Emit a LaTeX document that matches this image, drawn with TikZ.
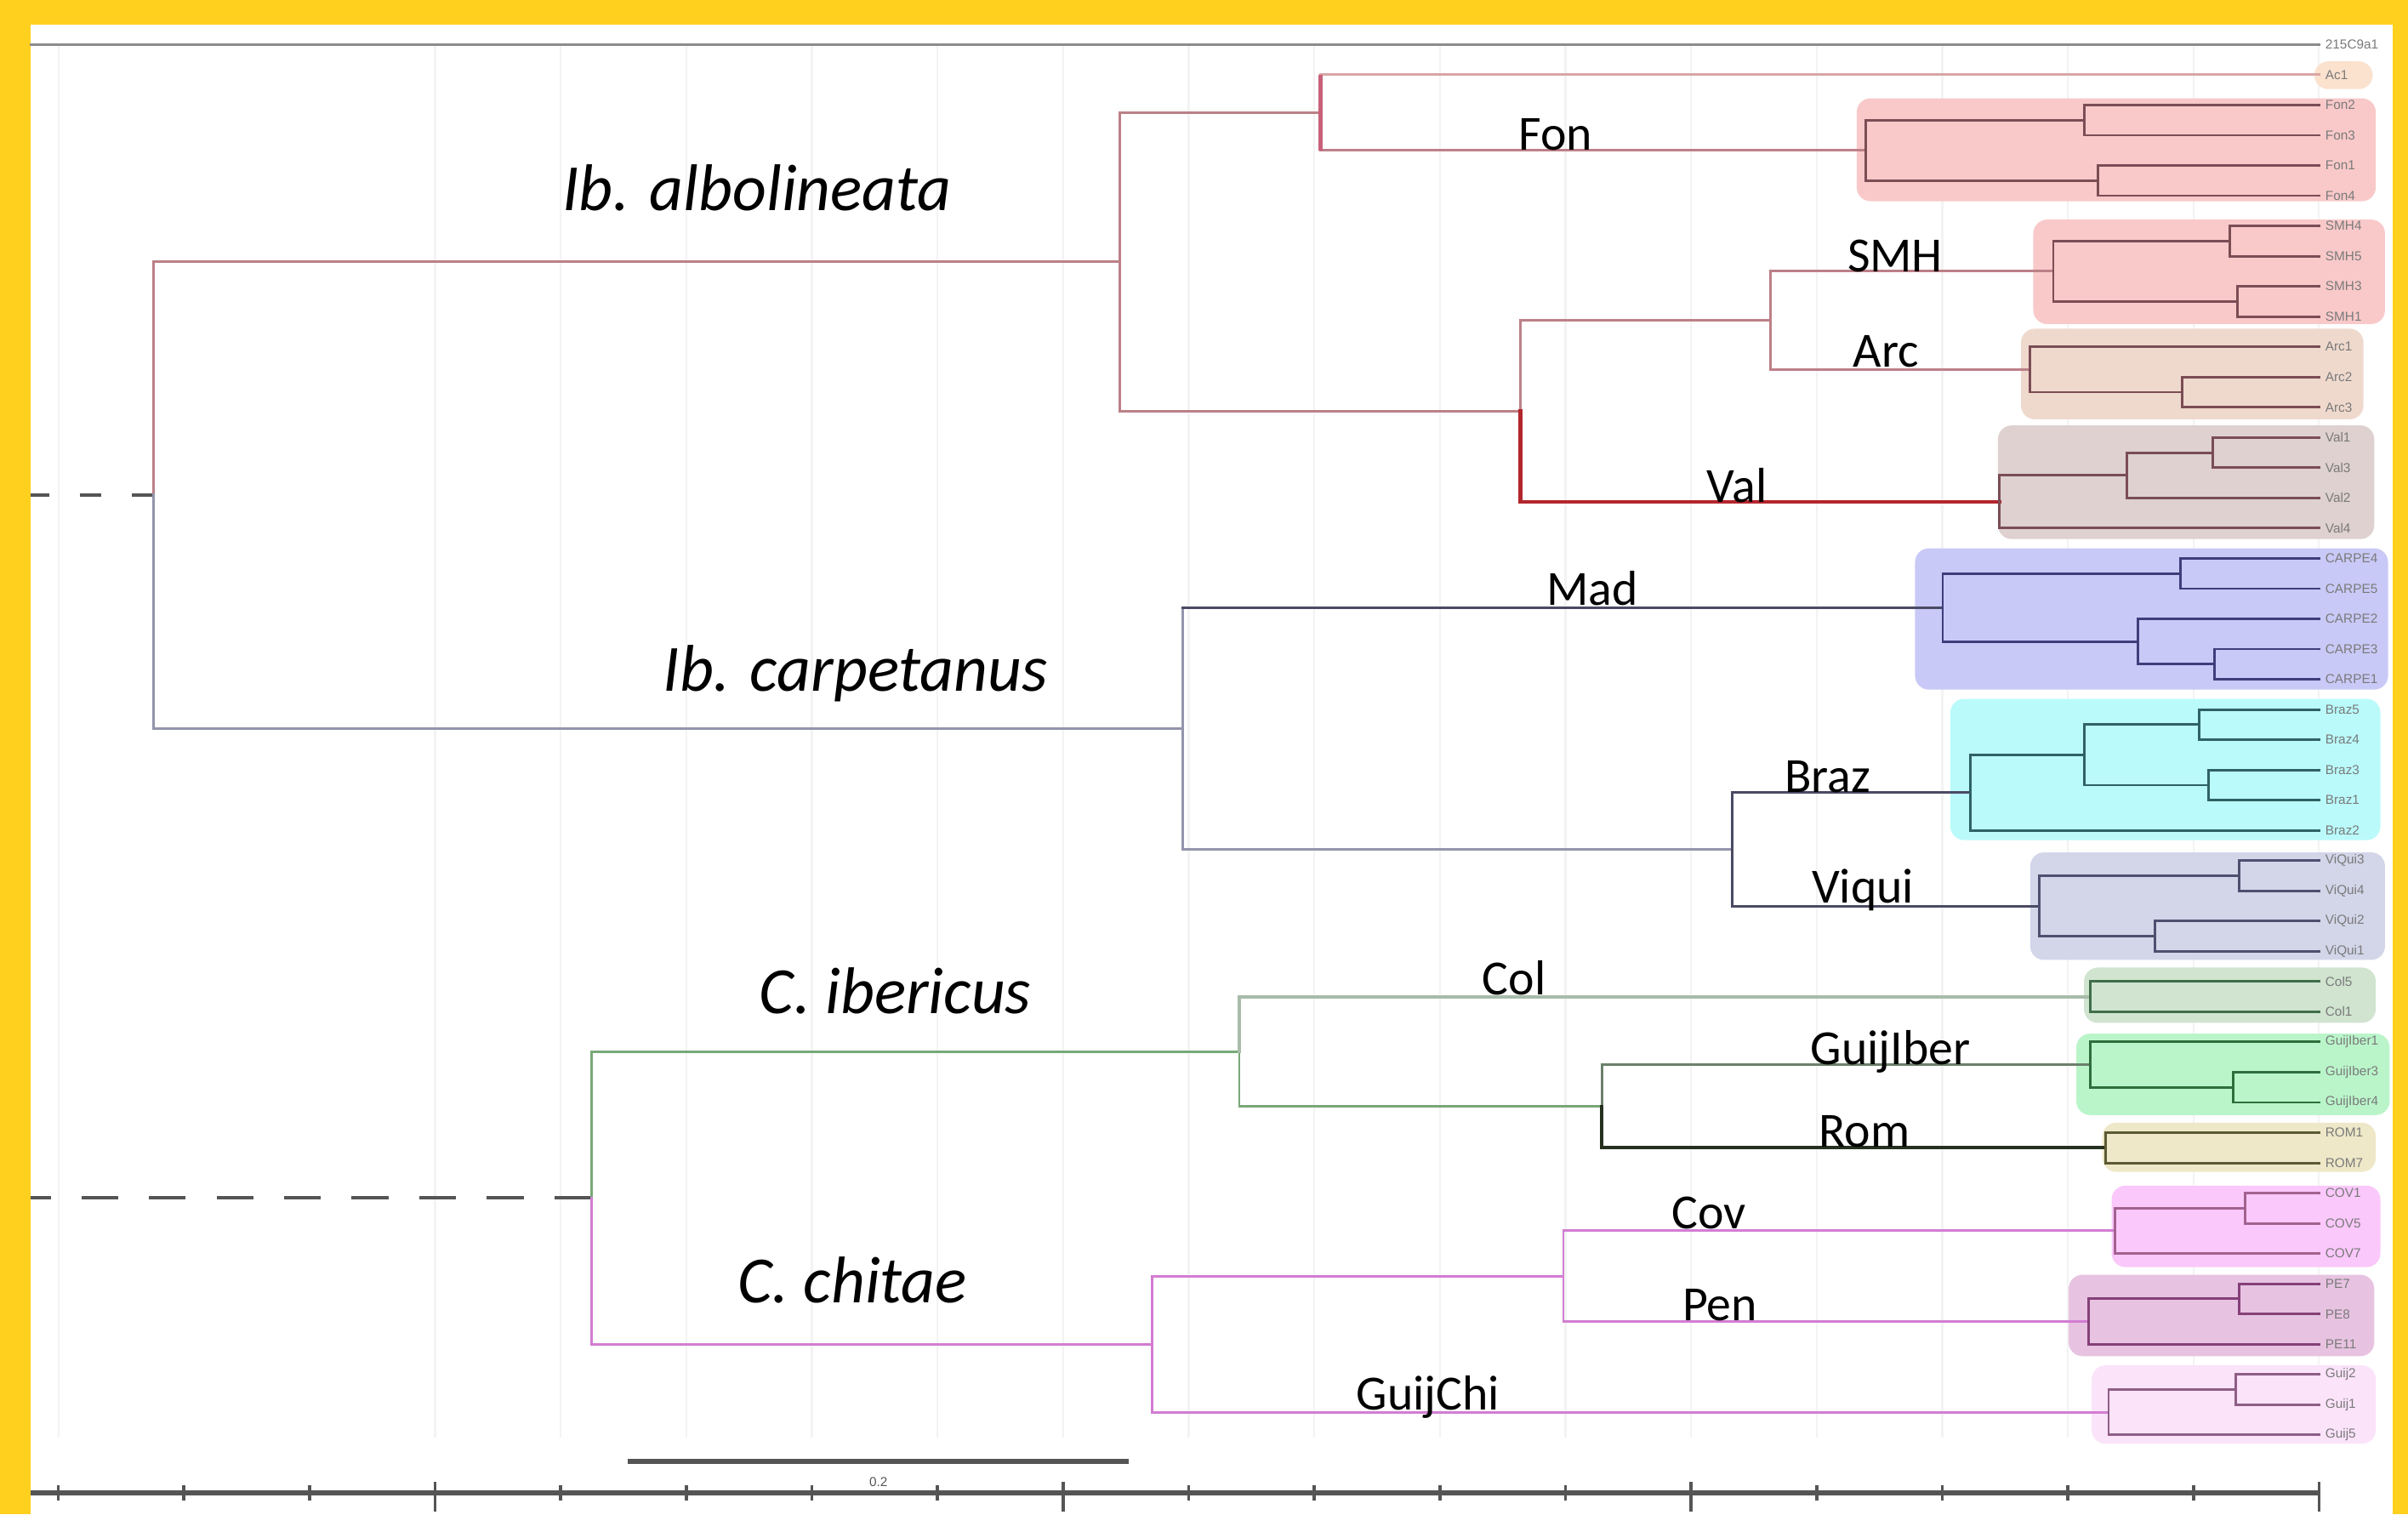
\documentclass[tikz,border=0pt]{standalone}
\usepackage{fontspec}
\setmainfont{Carlito}
\newfontfamily\tipfont{Liberation Sans}
\usepackage{tikz}
\usetikzlibrary{positioning}
\definecolor{frame}{HTML}{FFD01E}
\definecolor{gridc}{HTML}{F3F3F3}
\definecolor{axisc}{HTML}{555555}
\definecolor{ogc}{HTML}{8C8C8C}
\definecolor{albo}{HTML}{BC8088}
\definecolor{alboin}{HTML}{7B4D55}
\definecolor{acl}{HTML}{D9A6A6}
\definecolor{redbar}{HTML}{C8607A}
\definecolor{valred}{HTML}{B3262E}
\definecolor{carp}{HTML}{9494AC}
\definecolor{carpdk}{HTML}{4A4A64}
\definecolor{madin}{HTML}{3E3E7C}
\definecolor{brzin}{HTML}{2F6264}
\definecolor{viqin}{HTML}{4E5070}
\definecolor{ibe}{HTML}{78A878}
\definecolor{colst}{HTML}{A9BBA9}
\definecolor{colin}{HTML}{3F6E4A}
\definecolor{gist}{HTML}{6B806B}
\definecolor{romst}{HTML}{26301F}
\definecolor{giin}{HTML}{2E6E3C}
\definecolor{romin}{HTML}{5C5A34}
\definecolor{chi}{HTML}{D27DD2}
\definecolor{covin}{HTML}{A2628F}
\definecolor{penin}{HTML}{854078}
\definecolor{gchin}{HTML}{8E5E86}
\definecolor{acbox}{HTML}{FBE2CE}
\definecolor{fonbox}{HTML}{F9C9C9}
\definecolor{arcbox}{HTML}{EFD9CD}
\definecolor{valbox}{HTML}{DED1CF}
\definecolor{carpbox}{HTML}{C9C9F7}
\definecolor{brazbox}{HTML}{BAFAFA}
\definecolor{viqbox}{HTML}{D3D5E9}
\definecolor{colbox}{HTML}{D0E4D0}
\definecolor{gibox}{HTML}{BAF5CA}
\definecolor{rombox}{HTML}{EEE8C8}
\definecolor{covbox}{HTML}{FAC8FA}
\definecolor{penbox}{HTML}{E7C3E1}
\definecolor{gchbox}{HTML}{FBE3FA}
\tikzset{
  br/.style={line width=1.6pt,line cap=rect},
  hbox/.style={rounded corners=9pt},
  gridln/.style={gridc,line width=1.2pt},
  axisln/.style={axisc,line width=2pt},
  leaflab/.style={font=\tipfont\fontsize{8.5}{8.5}\selectfont,text=black!52,inner sep=0pt},
  clade/.style={font=\fontsize{32}{32}\selectfont,anchor=base,inner sep=0pt},
  species/.style={font=\itshape\fontsize{43}{43}\selectfont,anchor=base,inner sep=0pt},
}

\begin{document}
\begin{tikzpicture}[x=1pt,y=-1pt]
\fill[frame] (0,0) rectangle (1568,986);
\fill[white] (20,16) rectangle (1558,986);
\useasboundingbox (0,0) rectangle (1568,986);

\foreach \k in {0,3,4,5,...,18} \draw[gridln] ({38+81.78*\k},29) -- ({38+81.78*\k},936);

\fill[acbox,hbox] (1507,40) rectangle (1545,58);
\fill[fonbox,hbox] (1209,64) rectangle (1547,131);
\fill[fonbox,hbox] (1324,143) rectangle (1553,211);
\fill[arcbox,hbox] (1316,214) rectangle (1539,273);
\fill[valbox,hbox] (1301,277) rectangle (1546,351);
\fill[carpbox,hbox] (1247,357) rectangle (1555,449);
\fill[brazbox,hbox] (1270,455) rectangle (1550,547);
\fill[viqbox,hbox] (1322,555) rectangle (1553,625);
\fill[colbox,hbox] (1357,630) rectangle (1547,666);
\fill[gibox,hbox] (1352,673) rectangle (1556,726);
\fill[rombox,hbox] (1369,731) rectangle (1547,763);
\fill[covbox,hbox] (1375,772) rectangle (1550,825);
\fill[penbox,hbox] (1347,830) rectangle (1546,883);
\fill[gchbox,hbox] (1362,889) rectangle (1547,940);

\foreach \i in {0,...,46} \coordinate (t\i) at (1510,{29+19.68*\i});
\foreach \lab [count=\i from 0] in {215C9a1,Ac1,Fon2,Fon3,Fon1,Fon4,SMH4,SMH5,SMH3,SMH1,Arc1,Arc2,Arc3,Val1,Val3,Val2,Val4,CARPE4,CARPE5,CARPE2,CARPE3,CARPE1,Braz5,Braz4,Braz3,Braz1,Braz2,ViQui3,ViQui4,ViQui2,ViQui1,Col5,Col1,GuijIber1,GuijIber3,GuijIber4,ROM1,ROM7,COV1,COV5,COV7,PE7,PE8,PE11,Guij2,Guij1,Guij5}
  \node[leaflab,right=4pt of t\i] (l\i) {\lab};

\coordinate (og) at (20,29);
\coordinate (dl1) at (20,322.3);
\coordinate (dl2) at (20,779.9);
\coordinate (nig) at (100,322.3);
\coordinate (nalbo) at (729,170.4);
\coordinate (na1) at (860,73.3);
\coordinate (nfon) at (1215,97.9);
\coordinate (nf23) at (1357,78.2);
\coordinate (nf14) at (1366,117.6);
\coordinate (nsvs) at (990,267.6);
\coordinate (nsa) at (1153,208.6);
\coordinate (nsmh) at (1337,176.6);
\coordinate (ns67) at (1452,156.9);
\coordinate (ns89) at (1457,196.3);
\coordinate (narc) at (1322,240.6);
\coordinate (na23) at (1421,255.3);
\coordinate (nval) at (1302,326.7);
\coordinate (nv3) at (1385,309.4);
\coordinate (nv12) at (1441,294.7);
\coordinate (ncarp) at (770,474.3);
\coordinate (nmad) at (1265,395.5);
\coordinate (nc45) at (1420,373.4);
\coordinate (nc2) at (1392,417.7);
\coordinate (nc31) at (1442,432.4);
\coordinate (nbv) at (1128,553.0);
\coordinate (nbraz) at (1283,516.1);
\coordinate (nb4) at (1357,491.5);
\coordinate (nb12) at (1432,471.8);
\coordinate (nb34) at (1438,511.2);
\coordinate (nviq) at (1328,589.9);
\coordinate (nq12) at (1458,570.2);
\coordinate (nq34) at (1403,609.6);
\coordinate (ncn) at (385,779.9);
\coordinate (nib) at (807,684.6);
\coordinate (ncol) at (1361,648.9);
\coordinate (ngr) at (1043,720.3);
\coordinate (ngi) at (1361,693.2);
\coordinate (ng45) at (1454,708.0);
\coordinate (nrom) at (1371,747.3);
\coordinate (nch) at (750,875.2);
\coordinate (ncp) at (1018,831.0);
\coordinate (ncov) at (1377,801.4);
\coordinate (no12) at (1462,786.7);
\coordinate (npen) at (1360,860.5);
\coordinate (np12) at (1458,845.7);
\coordinate (ngch) at (1373,919.5);
\coordinate (nh12) at (1456,904.8);

\draw[br,ogc] (og) -- (t0);
\draw[axisc,line width=2.5pt,dash pattern=on 14pt off 20pt] (nig) -- (dl1);
\draw[axisc,line width=2.5pt,dash pattern=on 24pt off 20pt] (ncn) -- (dl2);

\draw[br,albo] (nig) |- (nalbo);
\draw[br,carp] (nig) |- (ncarp);
\draw[br,albo] (nalbo) |- (na1) (nalbo) |- (nsvs);
\draw[br,acl] (na1) |- (t1);
\draw[br,albo] (na1) |- (nfon);
\draw[redbar,line width=3pt] (na1 |- t1) -- (na1 |- nfon);
\draw[br,alboin] (nfon) |- (nf23) (nfon) |- (nf14) (nf23) |- (t2) (nf23) |- (t3) (nf14) |- (t4) (nf14) |- (t5);
\draw[br,albo] (nsvs) |- (nsa);
\draw[valred,line width=2.6pt,line cap=rect] (nsvs) |- (nval);
\draw[br,albo] (nsa) |- (nsmh) (nsa) |- (narc);
\draw[br,alboin] (nsmh) |- (ns67) (nsmh) |- (ns89) (ns67) |- (t6) (ns67) |- (t7) (ns89) |- (t8) (ns89) |- (t9);
\draw[br,alboin] (narc) |- (t10) (narc) |- (na23) (na23) |- (t11) (na23) |- (t12);
\draw[br,alboin] (nval) |- (nv3) (nval) |- (t16) (nv3) |- (nv12) (nv3) |- (t15) (nv12) |- (t13) (nv12) |- (t14);

\draw[br,carp] (ncarp) |- (nbv);
\draw[br,carp] (ncarp) |- (nmad);
\draw[br,carpdk] (ncarp |- nmad) -- (nmad);
\draw[br,madin] (nmad) |- (nc45) (nmad) |- (nc2) (nc45) |- (t17) (nc45) |- (t18) (nc2) |- (t19) (nc2) |- (nc31) (nc31) |- (t20) (nc31) |- (t21);
\draw[br,carpdk] (nbv) |- (nbraz) (nbv) |- (nviq);
\draw[br,brzin] (nbraz) |- (nb4) (nbraz) |- (t26) (nb4) |- (nb12) (nb4) |- (nb34) (nb12) |- (t22) (nb12) |- (t23) (nb34) |- (t24) (nb34) |- (t25);
\draw[br,viqin] (nviq) |- (nq12) (nviq) |- (nq34) (nq12) |- (t27) (nq12) |- (t28) (nq34) |- (t29) (nq34) |- (t30);

\draw[br,ibe] (ncn) |- (nib);
\draw[br,chi] (ncn) |- (nch);
\draw[br,ibe] (nib) |- (ngr);
\draw[br,colst,line width=2.2pt] (nib) |- (ncol);
\draw[br,colin] (ncol) |- (t31) (ncol) |- (t32);
\draw[br,gist] (ngr) |- (ngi);
\draw[br,romst,line width=2.2pt] (ngr) |- (nrom);
\draw[br,giin] (ngi) |- (t33) (ngi) |- (ng45) (ng45) |- (t34) (ng45) |- (t35);
\draw[br,romin] (nrom) |- (t36) (nrom) |- (t37);
\draw[br,chi] (nch) |- (ncp) (nch) |- (ngch) (ncp) |- (ncov) (ncp) |- (npen);
\draw[br,covin] (ncov) |- (no12) (ncov) |- (t40) (no12) |- (t38) (no12) |- (t39);
\draw[br,penin] (npen) |- (np12) (npen) |- (t43) (np12) |- (t41) (np12) |- (t42);
\draw[br,gchin] (ngch) |- (nh12) (ngch) |- (t46) (nh12) |- (t44) (nh12) |- (t45);

\node[species] (lalbo) at (493,137) {Ib. albolineata};
\node[species] (lcarp) at (557,450) {Ib. carpetanus};
\node[species] (liber) at (583,660) {C. ibericus};
\node[species] (lchit) at (555,848) {C. chitae};

\node[clade] (lfon) at (1013,98) {Fon};
\node[clade] (lsmh) at (1234,177) {SMH};
\node[clade] (larc) at (1228,239) {Arc};
\node[clade] (lval) at (1131,327) {Val};
\node[clade] (lmad) at (1037,394) {Mad};
\node[clade] (lbraz) at (1190,516) {Braz};
\node[clade] (lviq) at (1213,588) {Viqui};
\node[clade] (lcol) at (986,648) {Col};
\node[clade] (lgi) at (1231,693) {GuijIber};
\node[clade] (lrom) at (1214,747) {Rom};
\node[clade] (lcov) at (1113,800) {Cov};
\node[clade] (lpen) at (1120,860) {Pen};
\node[clade] (lgch) at (930,918) {GuijChi};

\foreach \k in {0,...,18} \draw[axisln] ({38+81.78*\k},967) -- ({38+81.78*\k},977);
\foreach \k in {3,8,13,18} \draw[axisln] ({38+81.78*\k},965) -- ({38+81.78*\k},984);
\coordinate (ax1) at (20,972);
\coordinate (ax2) at (1510,972);
\draw[axisc,line width=3pt] (ax1) -- (ax2);
\coordinate (sb1) at (409,951.6);
\coordinate (sb2) at (735,951.6);
\draw[axisc,line width=3pt] (sb1) -- (sb2);
\node[leaflab,text=axisc] (lsb) at (572,965) {0.2};
\end{tikzpicture}
\end{document}
